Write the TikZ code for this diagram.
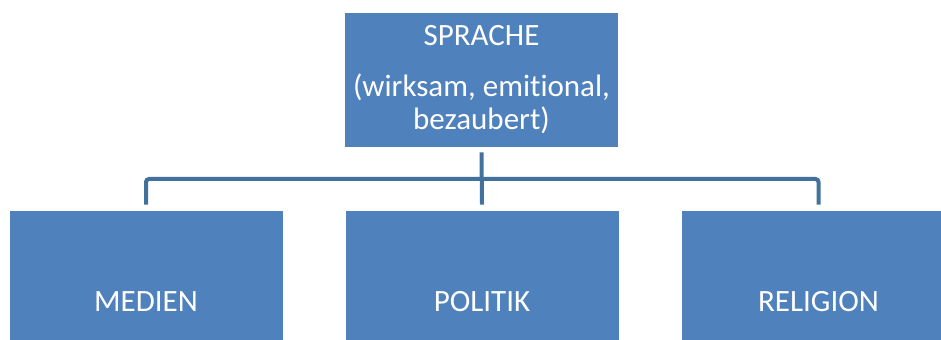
\documentclass[tikz,border=0pt]{standalone}
\usepackage{fontspec}
\setmainfont{Carlito}[Ligatures=NoCommon]
\definecolor{boxblue}{HTML}{4F81BD}
\definecolor{lineblue}{HTML}{41719C}
\tikzset{
  box/.style={rectangle, fill=boxblue, text=white, inner sep=0pt, align=center,
    font=\fontsize{15.5}{16.5}\selectfont, minimum width=136.5pt},
  conn/.style={draw=lineblue, line width=2pt, rounded corners=1.5pt}
}
\begin{document}
\begin{tikzpicture}[x=0.5pt, y=-0.5pt]
\useasboundingbox (0,0) rectangle (941,340);
% Top box
\node[box, minimum height=67pt] (sprache) at (481.5,80) {SPRACHE\\[9pt](wirksam, emitional,\\bezaubert)};

% Bottom boxes
\node[box, minimum height=91pt] (medien) at (146,302) {MEDIEN};
\node[box, minimum height=91pt] (politik) at (482,302) {POLITIK};
\node[box, minimum height=91pt] (religion) at (818.5,302) {RELIGION};

% Connections
\coordinate (bus) at (482,179);
\draw[conn] ([yshift=-2.5pt]sprache.south) -- ([yshift=3pt]politik.north);
\draw[conn] ([yshift=3pt]medien.north) |- (bus) -| ([yshift=3pt]religion.north);
\end{tikzpicture}
\end{document}
